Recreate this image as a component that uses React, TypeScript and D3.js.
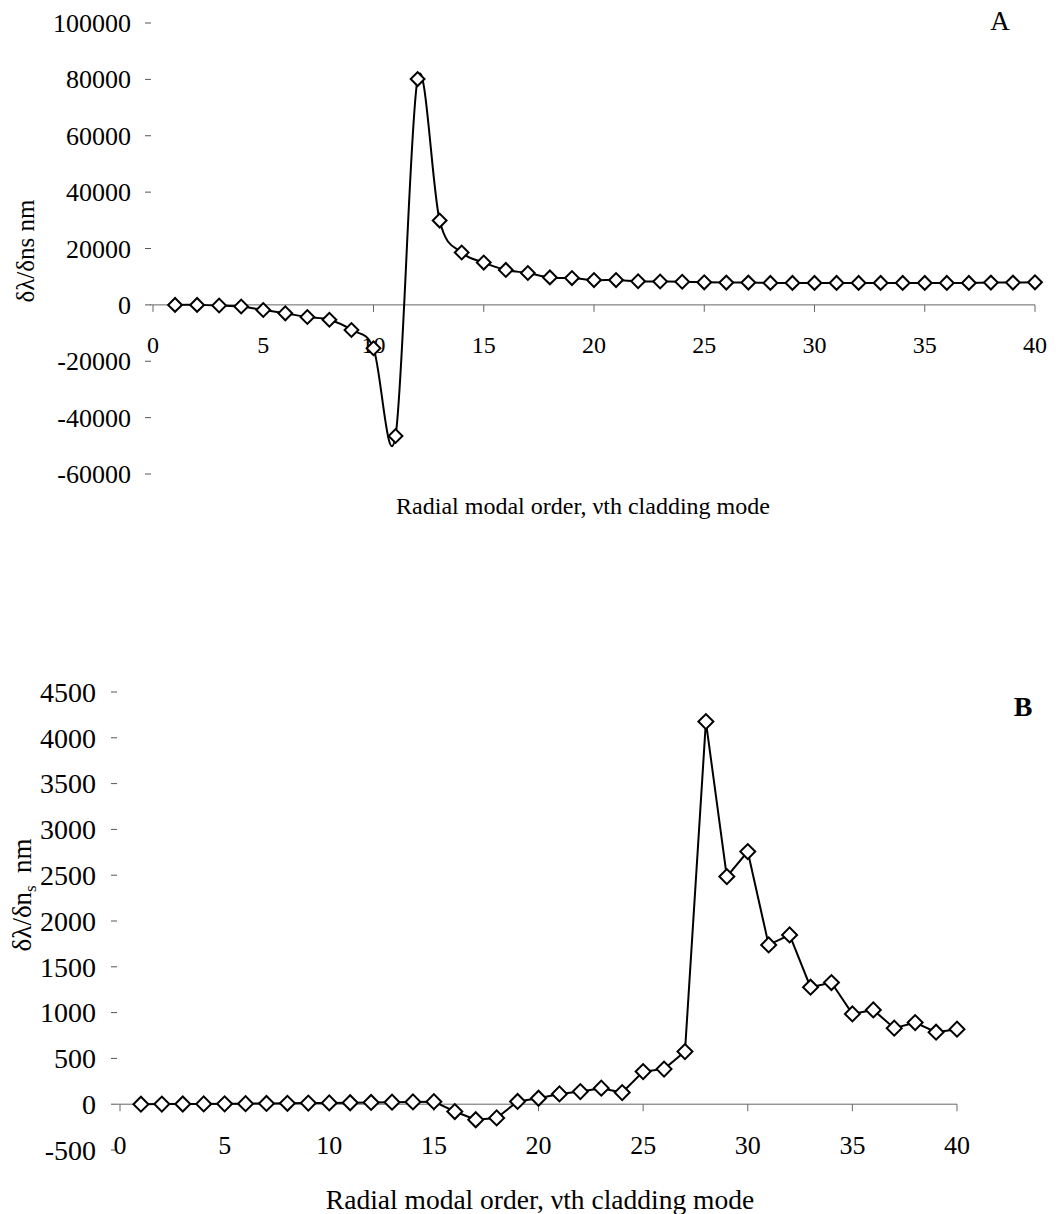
import React, { useEffect, useRef } from "react";
import * as d3 from "d3";

// radial modal order (x) for both panels
const modeOrder = [
  1, 2, 3, 4, 5, 6, 7, 8, 9, 10, 11, 12, 13, 14, 15, 16, 17, 18, 19, 20,
  21, 22, 23, 24, 25, 26, 27, 28, 29, 30, 31, 32, 33, 34, 35, 36, 37, 38, 39, 40,
];

// panel A: dλ/dns (nm)
const sensA = [
  0, 0, -240, -600, -1800, -3000, -4300, -5300, -8900, -15400,
  -46500, 80100, 29900, 18600, 15000, 12400, 11300, 9750, 9500, 8800,
  8800, 8400, 8300, 8200, 8000, 7900, 7900, 7800, 7800, 7800,
  7800, 7800, 7800, 7800, 7800, 7800, 7800, 7900, 7900, 8000,
];

// panel B: dλ/dn_s (nm)
const sensB = [
  0, 1, 2, 3, 4, 6, 8, 10, 12, 14,
  16, 19, 22, 25, 28, -80, -170, -150, 30, 65,
  112, 138, 175, 127, 356, 383, 574, 4177, 2485, 2758,
  1739, 1848, 1277, 1328, 986, 1029, 830, 891, 786, 819,
];

const xTicks = [0, 5, 10, 15, 20, 25, 30, 35, 40];
const yTicksA = [-60000, -40000, -20000, 0, 20000, 40000, 60000, 80000, 100000];
const yTicksB = [-500, 0, 500, 1000, 1500, 2000, 2500, 3000, 3500, 4000, 4500];

const xTitle = "Radial modal order, \u03bdth cladding mode";
const W = 1063;
const H = 1214;
const FONT = "'Liberation Serif', 'Times New Roman', serif";

type Panel = {
  values: number[];
  yTicks: number[];
  xRange: [number, number];
  yRange: [number, number];
  yLabelX: number;
  yTickX: number;
  tickFont: number;
  xTickFont: number;
  xLabelOffset: number;
  titleFont: number;
  titleX: number;
  titleY: number;
  markerSize: number;
  smooth: boolean;
};

const panelA: Panel = {
  values: sensA,
  yTicks: yTicksA,
  xRange: [153, 1035],
  yRange: [474, 23],
  yLabelX: 131,
  yTickX: 151,
  tickFont: 26,
  xTickFont: 24,
  xLabelOffset: 40,
  titleFont: 24,
  titleX: 583,
  titleY: 514,
  markerSize: 95,
  smooth: true,
};

const panelB: Panel = {
  values: sensB,
  yTicks: yTicksB,
  xRange: [120, 957],
  yRange: [1150, 692],
  yLabelX: 96,
  yTickX: 117,
  tickFont: 28,
  xTickFont: 26,
  xLabelOffset: 41,
  titleFont: 27.5,
  titleX: 540,
  titleY: 1209,
  markerSize: 112,
  smooth: false,
};

function drawPanel(svg: d3.Selection<SVGSVGElement, unknown, null, undefined>, p: Panel) {
  const x = d3.scaleLinear().domain([0, 40]).range(p.xRange);
  const y = d3
    .scaleLinear()
    .domain([p.yTicks[0], p.yTicks[p.yTicks.length - 1]])
    .range(p.yRange);

  const g = svg.append("g");

  // y ticks + labels (no axis line, like the original)
  g.selectAll(".ytick")
    .data(p.yTicks)
    .enter()
    .append("line")
    .attr("x1", p.yTickX - 6)
    .attr("x2", p.yTickX)
    .attr("y1", (d) => y(d))
    .attr("y2", (d) => y(d))
    .attr("stroke", "#555")
    .attr("stroke-width", 1);

  g.selectAll(".ylab")
    .data(p.yTicks)
    .enter()
    .append("text")
    .attr("x", p.yLabelX)
    .attr("y", (d) => y(d))
    .attr("dy", "0.35em")
    .attr("text-anchor", "end")
    .attr("font-size", p.tickFont)
    .text((d) => String(d));

  // x axis on the zero line
  const y0 = y(0);
  g.append("line")
    .attr("x1", x(0) - 3)
    .attr("x2", x(40))
    .attr("y1", y0)
    .attr("y2", y0)
    .attr("stroke", "#666")
    .attr("stroke-width", 1);

  g.selectAll(".xtick")
    .data(xTicks)
    .enter()
    .append("line")
    .attr("x1", (d) => x(d))
    .attr("x2", (d) => x(d))
    .attr("y1", y0)
    .attr("y2", y0 + 7)
    .attr("stroke", "#666")
    .attr("stroke-width", 1);

  g.selectAll(".xlab")
    .data(xTicks)
    .enter()
    .append("text")
    .attr("x", (d) => x(d))
    .attr("y", y0 + p.xLabelOffset)
    .attr("dy", "0.35em")
    .attr("text-anchor", "middle")
    .attr("font-size", p.xTickFont)
    .text((d) => String(d));

  // series line
  const line = d3
    .line<number>()
    .x((_, i) => x(modeOrder[i]))
    .y((d) => y(d))
    .curve(p.smooth ? d3.curveCardinal.tension(0) : d3.curveLinear);

  g.append("path")
    .datum(p.values)
    .attr("d", line)
    .attr("fill", "none")
    .attr("stroke", "#000")
    .attr("stroke-width", 2);

  // open diamond markers
  const sym = d3.symbol().type(d3.symbolSquare).size(p.markerSize)();
  g.selectAll(".pt")
    .data(p.values)
    .enter()
    .append("path")
    .attr("d", sym)
    .attr(
      "transform",
      (d, i) => "translate(" + x(modeOrder[i]) + "," + y(d) + ") rotate(45)"
    )
    .attr("fill", "#fff")
    .attr("stroke", "#000")
    .attr("stroke-width", 2);

  // x axis title
  g.append("text")
    .attr("x", p.titleX)
    .attr("y", p.titleY)
    .attr("text-anchor", "middle")
    .attr("font-size", p.titleFont)
    .text(xTitle);
}

const App = () => {
  const svgRef = useRef<SVGSVGElement>(null);

  useEffect(() => {
    const svg = d3.select(svgRef.current as SVGSVGElement);
    svg.selectAll("*").remove();
    svg.append("rect").attr("width", W).attr("height", H).attr("fill", "#fff");

    drawPanel(svg, panelA);
    drawPanel(svg, panelB);

    // y axis titles
    svg
      .append("text")
      .attr("transform", "translate(25,251) rotate(-90)")
      .attr("text-anchor", "middle")
      .attr("dy", "0.35em")
      .attr("font-size", 25)
      .text("\u03b4\u03bb/\u03b4ns nm");

    const tb = svg
      .append("text")
      .attr("transform", "translate(22,895) rotate(-90)")
      .attr("text-anchor", "middle")
      .attr("dy", "0.35em")
      .attr("font-size", 27);
    tb.append("tspan").text("\u03b4\u03bb/\u03b4n");
    tb.append("tspan").attr("font-size", 17).attr("dy", 5).text("s");
    tb.append("tspan").attr("dy", -5).text("\u2009 nm");

    // panel letters
    svg
      .append("text")
      .attr("x", 1000)
      .attr("y", 30)
      .attr("text-anchor", "middle")
      .attr("font-size", 27)
      .text("A");

    svg
      .append("text")
      .attr("x", 1023)
      .attr("y", 716)
      .attr("text-anchor", "middle")
      .attr("font-size", 28)
      .attr("font-weight", "bold")
      .text("B");
  }, []);

  return (
    <div style={{ position: "absolute", left: 0, top: 0 }}>
      <svg
        ref={svgRef}
        width={W}
        height={H}
        style={{ display: "block", fontFamily: FONT }}
      ></svg>
    </div>
  );
};

export default App;
